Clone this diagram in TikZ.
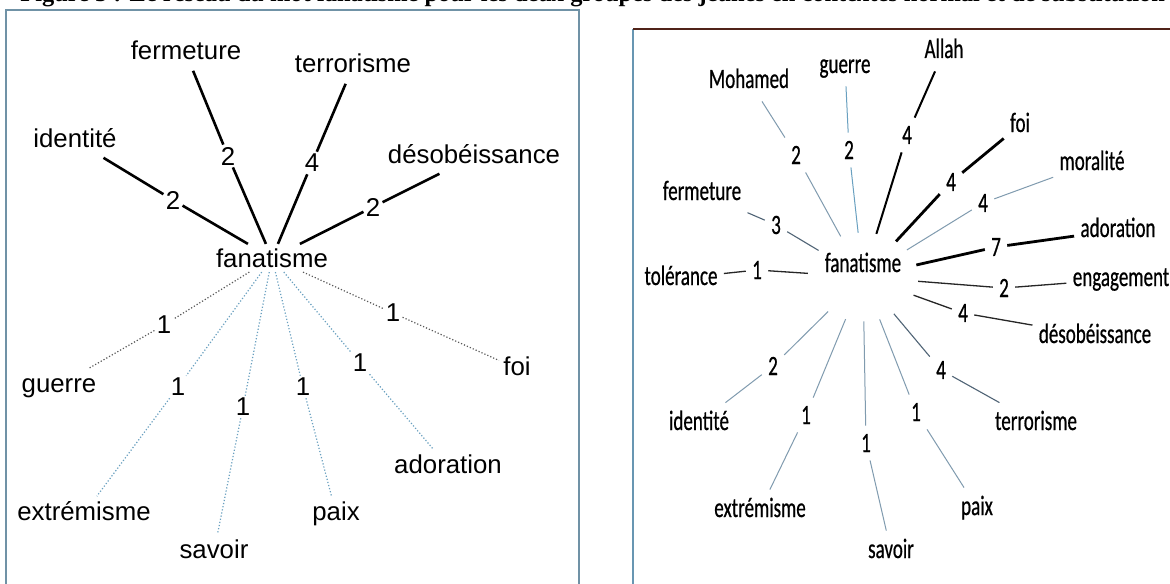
\documentclass[tikz,border=0pt]{standalone}
\usepackage{fontspec}
\setmainfont{Liberation Sans}
\newfontfamily\titlefont{Liberation Serif}
\newfontfamily\calib[FakeStretch=0.68, FakeBold=0.6]{Carlito}
\usepackage{xcolor}
\usepackage{tikz}
\usetikzlibrary{shapes.geometric, positioning, calc}

\definecolor{framegrey}{RGB}{112,146,166}
\definecolor{frameblue}{RGB}{104,150,178}
\definecolor{framedark}{RGB}{80,35,25}
\definecolor{linkblue}{RGB}{105,160,192}
\definecolor{linkgrey}{RGB}{128,155,175}
\definecolor{linkslate}{RGB}{80,100,118}

\tikzset{
  % left panel (Arial-like)
  hubA/.style={inner sep=2pt, text height=9.7pt, text depth=0pt, font=\fontsize{12.9}{15}\selectfont},
  termA/.style={inner sep=2pt, text height=9.7pt, text depth=3.2pt, font=\fontsize{12.9}{15}\selectfont},
  wtA/.style={inner sep=1pt, font=\fontsize{12.9}{15}\selectfont},
  strongA/.style={black, line width=1.3pt},
  weakA/.style={linkblue, line width=0.6pt, densely dotted},
  weakdarkA/.style={gray!70!black, line width=0.6pt, densely dotted},
  % right panel (Calibri-like, drawn taller)
  hubB/.style={ellipse, inner sep=0pt, minimum width=55pt, minimum height=44pt, text height=9.8pt, text depth=14.8pt, font=\calib\fontsize{14}{16}\selectfont},
  termB/.style={inner sep=3pt, text height=10.5pt, text depth=3.5pt, font=\calib\fontsize{14}{16}\selectfont},
  wtB/.style={inner xsep=3pt, inner ysep=4pt, font=\calib\fontsize{14}{16}\selectfont},
  thinB/.style={linkgrey, line width=0.5pt},
  paleB/.style={linkblue, line width=0.5pt},
  slateB/.style={linkslate, line width=0.55pt},
  darkB/.style={black!85, line width=0.65pt},
  boldB/.style={black, line width=1pt},
  heavyB/.style={black, line width=1.4pt},
  titletext/.style={anchor=base west, inner sep=0pt, font=\titlefont\bfseries\fontsize{12.2}{14}\selectfont}
}

\begin{document}
\begin{tikzpicture}[x=0.5pt, y=-0.5pt]
	\useasboundingbox[fill=white] (0,0) rectangle (1170,583);
	% Title line, cut at the top of the page
	\node[titletext] (title) at (20,2) {Figure 5 : Le réseau du mot fanatisme pour les deux groupes des jeunes en contextes normal et de substitution};
	
	% Frames of the two panels
	\draw[framegrey, line width=1pt] (6,600) -- (6,10) -- (579,10) -- (579,600);
	\draw[frameblue, line width=0.8pt] (633,600) -- (633,29);
	\draw[framedark, line width=0.6pt] (633,29) -- (1180,29);
	
	% Left panel: the words
	\node[hubA] (fanA) at (272,258) {fanatisme};
	\node[termA] (fermA) at (186,53.5) {fermeture};
	\node[termA] (terrA) at (353,66.5) {terrorisme};
	\node[termA] (identA) at (75,140.5) {identité};
	\node[termA] (desobA) at (474,156.5) {désobéissance};
	\node[termA] (guerA) at (59,385.5) {guerre};
	\node[termA] (extrA) at (84,513.5) {extrémisme};
	\node[termA] (savA) at (214,551.5) {savoir};
	\node[termA] (paixA) at (336,513.5) {paix};
	\node[termA] (adorA) at (448,466.5) {adoration};
	\node[termA] (foiA) at (517,368.5) {foi};
	
	% Left panel: the weights
	\node[wtA] (wIdentA) at (173,200) {2};
	\node[wtA] (wFermA) at (228,156) {2};
	\node[wtA] (wTerrA) at (312,163) {4};
	\node[wtA] (wDesobA) at (373,207) {2};
	\node[wtA] (wGuerA) at (164,325) {1};
	\node[wtA] (wExtrA) at (178,387) {1};
	\node[wtA] (wSavA) at (243,407) {1};
	\node[wtA] (wPaixA) at (303,387) {1};
	\node[wtA] (wAdorA) at (360,363) {1};
	\node[wtA] (wFoiA) at (393,313) {1};
	
	% Left panel: the links
	\draw[strongA] (fanA) -- (wIdentA) -- (identA);
	\draw[strongA] (fanA) -- (wFermA) -- (fermA);
	\draw[strongA] (fanA) -- (wTerrA) -- (terrA);
	\draw[strongA] (fanA) -- (wDesobA) -- (desobA);
	\draw[weakdarkA] (fanA) -- (wGuerA) -- (guerA);
	\draw[weakA] (fanA) -- (wExtrA) -- (extrA);
	\draw[weakA] (fanA) -- (wSavA) -- (savA);
	\draw[weakA] (fanA) -- (wPaixA) -- (paixA);
	\draw[weakA] (fanA) -- (wAdorA) -- (adorA);
	\draw[weakdarkA] (fanA) -- (wFoiA) -- (foiA);
	
	% Right panel: the words
	\node[hubB] (fanB) at (863,277) {fanatisme};
	\node[termB] (allahB) at (944,51) {Allah};
	\node[termB] (mohB) at (749,81) {Mohamed};
	\node[termB] (guerB) at (845,66) {guerre};
	\node[termB] (foiB) at (1020,125) {foi};
	\node[termB] (moralB) at (1092,163) {moralité};
	\node[termB] (fermB) at (702,193) {fermeture};
	\node[termB] (adorB) at (1118,230) {adoration};
	\node[termB] (tolB) at (681,278) {tolérance};
	\node[termB] (engB) at (1121,279) {engagement};
	\node[termB] (desobB) at (1095,336) {désobéissance};
	\node[termB] (identB) at (699,423) {identité};
	\node[termB] (terrB) at (1036,423) {terrorisme};
	\node[termB] (extrB) at (760,510) {extrémisme};
	\node[termB] (savB) at (891,551) {savoir};
	\node[termB] (paixB) at (977,508) {paix};
	
	% Right panel: the weights
	\node[wtB] (wMohB) at (796,155) {2};
	\node[wtB] (wGuerB) at (849,150) {2};
	\node[wtB] (wAllahB) at (907,135) {4};
	\node[wtB] (wFoiB) at (951,182) {4};
	\node[wtB] (wMoralB) at (983,203) {4};
	\node[wtB] (wFermB) at (776,225) {3};
	\node[wtB] (wAdorB) at (996,247) {7};
	\node[wtB] (wTolB) at (757,270) {1};
	\node[wtB] (wEngB) at (1004,288) {2};
	\node[wtB] (wDesobB) at (963,313) {4};
	\node[wtB] (wTerrB) at (941,370) {4};
	\node[wtB] (wPaixB) at (916,412) {1};
	\node[wtB] (wSavB) at (866,443) {1};
	\node[wtB] (wExtrB) at (806,415) {1};
	\node[wtB] (wIdentB) at (773,366) {2};
	
	% Right panel: the links
	\draw[thinB] (fanB) -- (wMohB) -- (mohB);
	\draw[paleB] (fanB) -- (wGuerB) -- (guerB);
	\draw[boldB] (fanB) -- (wAllahB) -- (allahB);
	\draw[heavyB] (fanB) -- (wFoiB) -- (foiB);
	\draw[thinB] (fanB) -- (wMoralB) -- (moralB);
	\draw[slateB] (fanB) -- (wFermB) -- (fermB);
	\draw[heavyB] (fanB) -- (wAdorB) -- (adorB);
	\draw[darkB] (fanB) -- (wTolB) -- (tolB);
	\draw[darkB] (fanB) -- (wEngB) -- (engB);
	\draw[darkB] (fanB) -- (wDesobB) -- (desobB);
	\draw[slateB] (fanB) -- (wTerrB) -- (terrB);
	\draw[thinB] (fanB) -- (wPaixB) -- (paixB);
	\draw[thinB] (fanB) -- (wSavB) -- (savB);
	\draw[thinB] (fanB) -- (wExtrB) -- (extrB);
	\draw[thinB] (fanB) -- (wIdentB) -- (identB);
\end{tikzpicture}
\end{document}
